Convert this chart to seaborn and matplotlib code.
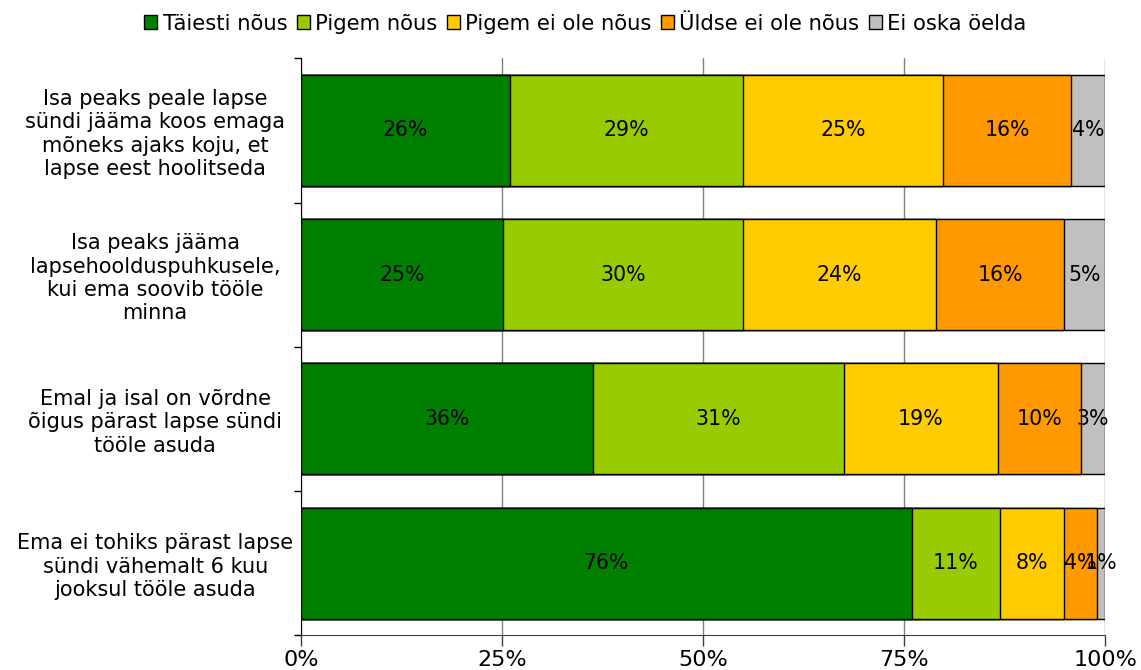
import numpy as np
import pandas as pd
import matplotlib
matplotlib.use('Agg')
import matplotlib.pyplot as plt
import seaborn as sns
from matplotlib.patches import Patch

# statements (top to bottom)
statements = [
    'Isa peaks peale lapse\nsündi jääma koos emaga\nmõneks ajaks koju, et\nlapse eest hoolitseda',
    'Isa peaks jääma\nlapsehoolduspuhkusele,\nkui ema soovib tööle\nminna',
    'Emal ja isal on võrdne\nõigus pärast lapse sündi\ntööle asuda',
    'Ema ei tohiks pärast lapse\nsündi vähemalt 6 kuu\njooksul tööle asuda',
]
series = ['Täiesti nõus', 'Pigem nõus', 'Pigem ei ole nõus', 'Üldse ei ole nõus', 'Ei oska öelda']

# shares in percent
taiesti_nous = [26.0, 25.1, 36.3, 76.0]
pigem_nous = [29.0, 29.9, 31.2, 10.9]
pigem_ei_nous = [24.8, 24.0, 19.2, 8.0]
uldse_ei_nous = [16.0, 15.9, 10.3, 4.1]
ei_oska = [4.2, 5.1, 3.0, 1.0]

colors = ['#008000', '#99CC00', '#FFCC00', '#FF9900', '#C0C0C0']
xticks = [0, 25, 50, 75, 100]
xtick_labels = ['0%', '25%', '50%', '75%', '100%']

values = np.array([taiesti_nous, pigem_nous, pigem_ei_nous, uldse_ei_nous, ei_oska])
cums = values.cumsum(axis=0)

df = pd.DataFrame({
    'statement': np.tile(statements, len(series)),
    'series': np.repeat(series, len(statements)),
    'value': values.ravel(),
    'cum': cums.ravel(),
})

sns.set_style('white')
plt.rcParams['font.family'] = ['DejaVu Sans']
plt.rcParams['text.color'] = 'black'
plt.rcParams['xtick.color'] = 'black'
plt.rcParams['ytick.color'] = 'black'

fig, ax = plt.subplots(figsize=(11.41, 6.70), dpi=100)
fig.subplots_adjust(left=0.2638, right=0.9685, bottom=0.052, top=0.913)

# stacked bars: draw cumulative totals from the largest down
for name, col in reversed(list(zip(series, colors))):
    sub = df[df['series'] == name]
    sns.barplot(data=sub, x='cum', y='statement', orient='h', color=col,
                saturation=1, edgecolor='black', linewidth=1, width=0.77,
                order=statements, ax=ax, zorder=2)

# value labels
for _, row in df.iterrows():
    j = statements.index(row['statement'])
    ax.text(row['cum'] - row['value'] / 2, j, f"{row['value']:.0f}%",
            ha='center', va='center', fontsize=14.8, color='black', zorder=3)

ax.set_xlim(0, 100)
ax.set_ylim(3.5, -0.5)
ax.set_xticks(xticks)
ax.set_xticklabels(xtick_labels, fontsize=16)
ax.xaxis.grid(True, color='#808080', linewidth=1)
ax.set_axisbelow(True)
ax.set_xlabel('')
ax.set_ylabel('')

ax.set_yticks(range(len(statements)))
ax.set_yticklabels(statements, fontsize=15, ha='center', multialignment='center',
                   linespacing=1.2)
ax.set_yticks([-0.5, 0.5, 1.5, 2.5, 3.5], minor=True)
ax.tick_params(axis='y', which='major', length=0, pad=105)
ax.tick_params(axis='y', which='minor', length=5, width=1, color='black', left=True)
ax.tick_params(axis='x', length=8, width=1, color='#404040', bottom=True, pad=3)

for s in ['top', 'right']:
    ax.spines[s].set_visible(False)
ax.spines['left'].set_color('black')
ax.spines['bottom'].set_color('#404040')

handles = [Patch(facecolor=c, edgecolor='black', linewidth=1) for c in colors]
fig.legend(handles, series, loc='upper center', bbox_to_anchor=(0.513, 1.008),
           ncol=5, frameon=False, fontsize=15.2, handlelength=0.62, handleheight=0.62,
           handletextpad=0.25, columnspacing=0.45)

fig.savefig('out.png', dpi=100)
